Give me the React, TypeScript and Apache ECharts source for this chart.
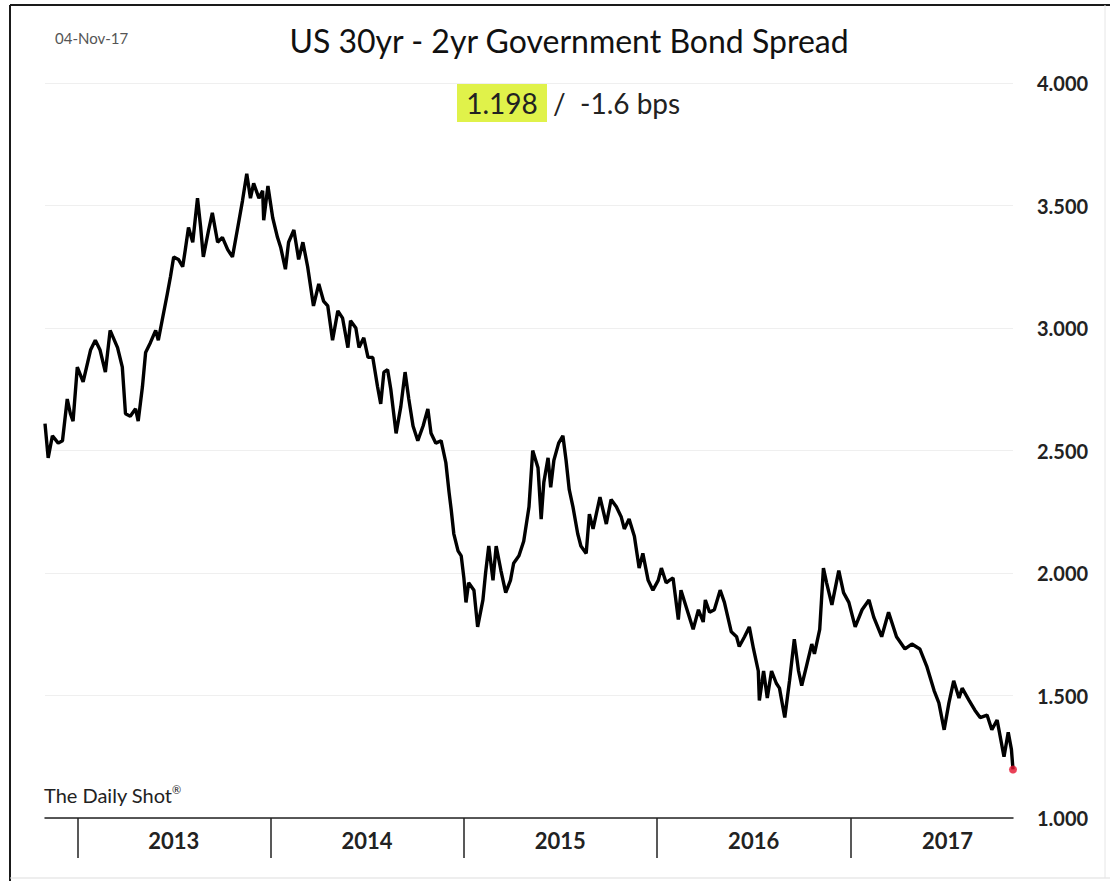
import React, { useEffect, useRef } from "react";
import * as echarts from "echarts";

// ---- Data ----
const dates: string[] = [
  "2012-11-01","2012-11-07","2012-11-15","2012-11-26","2012-12-04","2012-12-13","2012-12-19","2012-12-24",
  "2013-01-01","2013-01-12","2013-01-26","2013-02-04","2013-02-13","2013-02-23","2013-03-04","2013-03-18",
  "2013-03-27","2013-04-02","2013-04-11","2013-04-21","2013-04-26","2013-05-04","2013-05-10","2013-05-19",
  "2013-05-29","2013-06-03","2013-06-11","2013-06-20","2013-06-26","2013-07-02","2013-07-11","2013-07-19",
  "2013-07-24","2013-07-30","2013-08-07","2013-08-16","2013-08-22","2013-08-27","2013-09-06","2013-09-13",
  "2013-09-23","2013-10-02","2013-10-12","2013-10-21","2013-10-31","2013-11-09","2013-11-17","2013-11-24",
  "2013-11-30","2013-12-10","2013-12-17","2013-12-19","2013-12-27","2014-01-05","2014-01-14","2014-01-20",
  "2014-01-29","2014-02-04","2014-02-14","2014-02-23","2014-03-03","2014-03-12","2014-03-23","2014-04-02",
  "2014-04-11","2014-04-19","2014-04-28","2014-05-08","2014-05-17","2014-05-27","2014-06-01","2014-06-11",
  "2014-06-17","2014-06-26","2014-07-04","2014-07-13","2014-07-22","2014-07-28","2014-08-03","2014-08-10",
  "2014-08-16","2014-08-26","2014-09-04","2014-09-12","2014-09-19","2014-09-27","2014-10-06","2014-10-16",
  "2014-10-25","2014-10-31","2014-11-09","2014-11-19","2014-11-28","2014-12-04","2014-12-08","2014-12-13",
  "2014-12-21","2014-12-27","2015-01-01","2015-01-05","2015-01-10","2015-01-20","2015-01-27","2015-02-06",
  "2015-02-11","2015-02-17","2015-02-25","2015-03-03","2015-03-12","2015-03-21","2015-03-30","2015-04-05",
  "2015-04-15","2015-04-24","2015-05-04","2015-05-11","2015-05-21","2015-05-27","2015-06-01","2015-06-09",
  "2015-06-14","2015-06-20","2015-06-29","2015-07-07","2015-07-13","2015-07-19","2015-07-26","2015-08-04",
  "2015-08-10","2015-08-20","2015-08-26","2015-09-02","2015-09-08","2015-09-15","2015-09-27","2015-10-06",
  "2015-10-16","2015-10-25","2015-10-31","2015-11-09","2015-11-19","2015-11-28","2015-12-05","2015-12-15",
  "2015-12-24","2016-01-03","2016-01-09","2016-01-18","2016-01-24","2016-01-31","2016-02-10","2016-02-15",
  "2016-02-25","2016-03-09","2016-03-19","2016-03-28","2016-04-01","2016-04-09","2016-04-18","2016-04-29",
  "2016-05-07","2016-05-20","2016-05-30","2016-06-04","2016-06-14","2016-06-23","2016-07-01","2016-07-10",
  "2016-07-12","2016-07-20","2016-07-27","2016-08-04","2016-08-13","2016-08-19","2016-08-29","2016-09-07",
  "2016-09-16","2016-09-24","2016-09-30","2016-10-09","2016-10-19","2016-10-24","2016-11-03","2016-11-10",
  "2016-11-16","2016-11-26","2016-12-09","2016-12-18","2016-12-28","2017-01-09","2017-01-22","2017-02-04",
  "2017-02-13","2017-02-28","2017-03-13","2017-03-28","2017-04-13","2017-04-26","2017-05-11","2017-05-24",
  "2017-06-07","2017-06-16","2017-06-26","2017-07-05","2017-07-14","2017-07-24","2017-07-30","2017-08-12",
  "2017-08-23","2017-09-02","2017-09-15","2017-09-24","2017-10-04","2017-10-17","2017-10-25","2017-10-31",
  "2017-11-03"
];

const values: number[] = [
  2.61,2.47,2.56,2.53,2.54,2.71,2.65,2.62,
  2.84,2.78,2.91,2.95,2.91,2.82,2.99,2.92,
  2.84,2.65,2.64,2.67,2.62,2.76,2.90,2.94,
  2.99,2.95,3.04,3.14,3.21,3.29,3.28,3.25,
  3.32,3.41,3.35,3.53,3.41,3.29,3.40,3.47,
  3.35,3.37,3.32,3.29,3.41,3.52,3.63,3.53,
  3.59,3.53,3.56,3.44,3.58,3.45,3.37,3.33,
  3.24,3.35,3.40,3.28,3.35,3.25,3.09,3.18,
  3.11,3.09,2.95,3.07,3.04,2.92,3.03,3.00,
  2.92,2.96,2.88,2.88,2.76,2.69,2.82,2.83,
  2.75,2.57,2.68,2.82,2.71,2.60,2.54,2.60,
  2.67,2.57,2.53,2.54,2.45,2.33,2.26,2.16,
  2.09,2.07,1.98,1.88,1.96,1.93,1.78,1.89,
  2.00,2.11,1.97,2.11,2.01,1.92,1.97,2.04,
  2.07,2.13,2.27,2.50,2.43,2.22,2.37,2.47,
  2.35,2.46,2.53,2.56,2.46,2.34,2.27,2.16,
  2.11,2.08,2.24,2.18,2.24,2.31,2.20,2.30,
  2.27,2.23,2.18,2.22,2.15,2.02,2.08,1.97,
  1.93,1.97,2.02,1.96,1.97,1.98,1.81,1.93,
  1.86,1.77,1.85,1.80,1.89,1.84,1.85,1.93,
  1.88,1.76,1.74,1.70,1.74,1.78,1.69,1.60,
  1.48,1.60,1.49,1.60,1.55,1.53,1.41,1.56,
  1.73,1.60,1.54,1.62,1.71,1.67,1.77,2.02,
  1.96,1.87,2.01,1.92,1.88,1.78,1.85,1.89,
  1.82,1.74,1.84,1.74,1.69,1.71,1.69,1.62,
  1.52,1.47,1.36,1.47,1.56,1.49,1.53,1.48,
  1.44,1.41,1.42,1.36,1.40,1.25,1.35,1.28,
  1.198
];

const yTickMin = 1.0;
const yTickMax = 4.0;
const yTickStep = 0.5;

const titleText = "US 30yr - 2yr Government Bond Spread";
const asOfText = "04-Nov-17";
const lastValueText = "1.198";
const changeText = "/  -1.6 bps";
const sourceText = "The Daily Shot";
const sourceMark = "\u00AE";

const FONT = "Lato, 'Open Sans', 'Noto Sans', sans-serif";
const YEAR_MS = 365.25 * 24 * 3600 * 1000;

function ts(s: string): number {
  const [y, m, d] = s.split("-").map(Number);
  return new Date(y, m - 1, d).getTime();
}

export default function App() {
  const ref = useRef<HTMLDivElement>(null);

  useEffect(() => {
    if (!ref.current) return;
    const chart = echarts.init(ref.current, undefined, { renderer: "svg" });
    const seriesData = dates.map((d, i) => [ts(d), values[i]]);
    const last = seriesData[seriesData.length - 1];

    chart.setOption({
      animation: false,
      backgroundColor: "#ffffff",
      textStyle: { fontFamily: FONT },
      grid: { left: 45, right: 97, top: 83, bottom: 63, containLabel: false },
      xAxis: {
        type: "time",
        min: ts(dates[0]),
        max: ts(dates[dates.length - 1]),
        minInterval: YEAR_MS * 0.99,
        maxInterval: YEAR_MS * 1.01,
        axisLine: { show: true, lineStyle: { color: "#222", width: 1.5 } },
        axisTick: {
          show: true,
          length: 40,
          lineStyle: { color: "#222", width: 1.5 },
        },
        axisLabel: {
          show: true,
          showMinLabel: false,
          showMaxLabel: false,
          formatter: "{yyyy}",
          fontSize: 22,
          fontWeight: "bold",
          color: "#222",
          margin: 11,
          align: "center",
          padding: [0, 0, 0, 193],
          fontFamily: FONT,
        },
        splitLine: { show: false },
      },
      yAxis: {
        type: "value",
        position: "right",
        min: yTickMin,
        max: yTickMax,
        interval: yTickStep,
        axisLine: { show: false },
        axisTick: { show: false },
        axisLabel: {
          formatter: (v: number) => v.toFixed(3),
          fontSize: 20,
          fontWeight: "bold",
          color: "#222",
          margin: 24,
          fontFamily: FONT,
        },
        splitLine: { show: true, lineStyle: { color: "#efefef", width: 1 } },
      },
      series: [
        {
          type: "line",
          data: seriesData,
          showSymbol: false,
          symbol: "none",
          lineStyle: { color: "#000000", width: 3.4 },
          z: 2,
        },
        {
          type: "scatter",
          data: [last],
          symbol: "circle",
          symbolSize: 8,
          itemStyle: { color: "#e3122d" },
          z: 3,
        },
      ],
      graphic: [
        {
          type: "line",
          shape: { x1: 10, y1: 5, x2: 1110, y2: 5 },
          style: { stroke: "#1a1a1a", lineWidth: 2 },
          silent: true,
        },
        {
          type: "line",
          shape: { x1: 10, y1: 5, x2: 10, y2: 881 },
          style: { stroke: "#1a1a1a", lineWidth: 2 },
          silent: true,
        },
        {
          type: "line",
          shape: { x1: 10, y1: 878, x2: 1110, y2: 878 },
          style: { stroke: "#dddddd", lineWidth: 1 },
          silent: true,
        },
        {
          type: "line",
          shape: { x1: 1105, y1: 5, x2: 1105, y2: 878 },
          style: { stroke: "#e6e6e6", lineWidth: 1 },
          silent: true,
        },
        {
          type: "text",
          x: 55,
          y: 38,
          style: { text: asOfText, fontSize: 15, fill: "#555", fontFamily: FONT, textVerticalAlign: "middle" },
        },
        {
          type: "text",
          x: 569,
          y: 40,
          style: {
            text: titleText,
            fontSize: 32,
            fill: "#111",
            fontFamily: FONT,
            textAlign: "center",
            textVerticalAlign: "middle",
          },
        },
        {
          type: "rect",
          shape: { x: 457, y: 84, width: 90, height: 38 },
          style: { fill: "#e0f24a" },
        },
        {
          type: "text",
          x: 502,
          y: 103,
          style: {
            text: lastValueText,
            fontSize: 28,
            fill: "#222",
            fontFamily: FONT,
            textAlign: "center",
            textVerticalAlign: "middle",
          },
        },
        {
          type: "text",
          x: 553,
          y: 103,
          style: {
            text: changeText,
            fontSize: 28,
            fill: "#222",
            fontFamily: FONT,
            textAlign: "left",
            textVerticalAlign: "middle",
          },
        },
        {
          type: "text",
          x: 44,
          y: 795,
          style: {
            text: sourceText,
            fontSize: 20,
            fill: "#222",
            fontFamily: FONT,
            textVerticalAlign: "middle",
          },
        },
        {
          type: "text",
          x: 172,
          y: 789,
          style: {
            text: sourceMark,
            fontSize: 11,
            fill: "#222",
            fontFamily: FONT,
            textVerticalAlign: "middle",
          },
        },
      ],
    });

    return () => chart.dispose();
  }, []);

  return (
    <div
      ref={ref}
      style={{ position: "fixed", left: 0, top: 0, width: 1110, height: 881, background: "#fff" }}
    />
  );
}
